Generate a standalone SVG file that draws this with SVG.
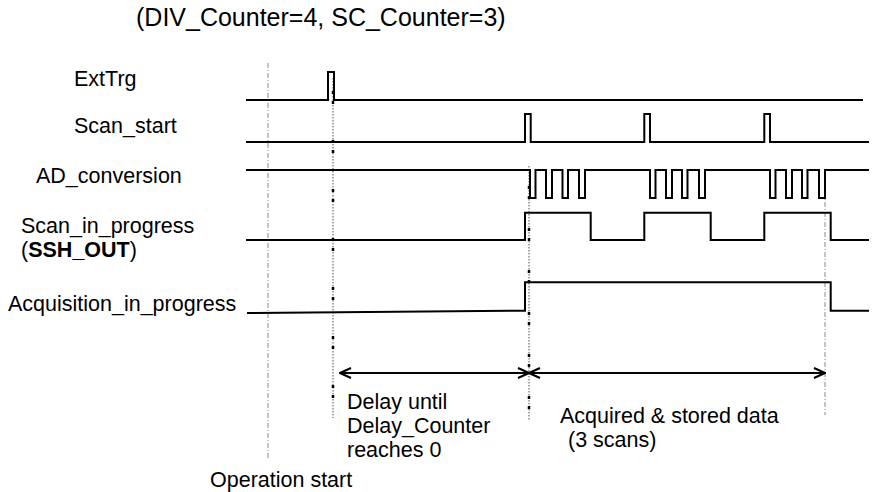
<svg xmlns="http://www.w3.org/2000/svg" width="873" height="492" viewBox="0 0 873 492">
<style>
  text { font-family: "Liberation Sans", Arial, sans-serif; font-size: 21.5px; fill: #000; }
  .title { font-size: 25px; }
  .sig { fill: none; stroke: #000; stroke-width: 2; stroke-linejoin: miter; }
  .guide { fill: none; stroke: #888; stroke-width: 1; stroke-dasharray: 5 2 1 2; }
  .fine { fill: none; stroke: #777; stroke-width: 1.3; stroke-dasharray: 1.5 1.5; }
  .dots { fill: none; stroke: #000; stroke-width: 2.5; stroke-dasharray: 3 7 3 36; }
  .arrow { fill: none; stroke: #000; stroke-width: 2; }
</style>
<defs>
  <marker id="head" viewBox="-13 -7 14 14" markerWidth="14" markerHeight="14" refX="0" refY="0" orient="auto-start-reverse" markerUnits="userSpaceOnUse">
    <path d="M-11,-5 L0,0 L-11,5" fill="none" stroke="#000" stroke-width="2"/>
  </marker>
</defs>
<text class="title" x="136" y="26">(DIV_Counter=4, SC_Counter=3)</text>

<g id="guides">
  <line class="guide" x1="268" y1="63" x2="268" y2="458"/>
  <line class="guide" x1="825" y1="182" x2="825" y2="415"/>
  <line class="fine" x1="333" y1="78" x2="333" y2="418"/>
  <line class="dots" x1="333" y1="91" x2="333" y2="418"/>
  <line class="fine" x1="529" y1="166" x2="529" y2="420"/>
  <line class="dots" x1="529" y1="186" x2="529" y2="420" style="stroke-dasharray:3 7 3 29"/>
</g>

<g id="ExtTrg">
  <text x="74" y="86">ExtTrg</text>
  <path class="sig" d="M246,100 H328 V72 H334 V100 H863"/>
</g>

<g id="Scan_start">
  <text x="74" y="133">Scan_start</text>
  <path class="sig" d="M246,142 H525 V114 H530.7 V142 H644.3 V114 H650 V142 H764.3 V114 H770 V142 H869"/>
</g>

<g id="AD_conversion">
  <text x="36" y="183">AD_conversion</text>
  <path class="sig" d="M246,170 H530 V198 H535.5 V170 H546 V198 H552 V170 H562.5 V198 H568 V170 H579 V198 H585 V170 H650 V198 H655.5 V170 H666 V198 H672 V170 H682 V198 H687.5 V170 H699 V198 H705 V170 H770 V198 H775.5 V170 H786 V198 H792 V170 H802 V198 H807.5 V170 H819 V198 H825 V170 H869"/>
</g>

<g id="Scan_in_progress">
  <text x="21" y="233">Scan_in_progress</text>
  <text x="21" y="257">(<tspan font-weight="bold">SSH_OUT</tspan>)</text>
  <path class="sig" d="M246,240 H525 V212.7 H590.7 V240 H644.3 V212.7 H710.7 V240 H764.3 V212.7 H830.7 V240 H869"/>
</g>

<g id="Acquisition_in_progress">
  <text x="8" y="311">Acquisition_in_progress</text>
  <path class="sig" d="M247,313 L525,310.7 V282.3 H830.7 V310.7 H869"/>
</g>

<g id="connectors">
  <line class="arrow" x1="340" y1="373" x2="529" y2="373" marker-start="url(#head)" marker-end="url(#head)"/>
  <line class="arrow" x1="529" y1="373" x2="825" y2="373" marker-start="url(#head)" marker-end="url(#head)"/>
</g>

<g id="labels">
  <text x="347" y="409">Delay until</text>
  <text x="347" y="433">Delay_Counter</text>
  <text x="347" y="457">reaches 0</text>
  <text x="560" y="423">Acquired &amp; stored data</text>
  <text x="568" y="447">(3 scans)</text>
  <text x="210" y="487">Operation start</text>
</g>
</svg>
